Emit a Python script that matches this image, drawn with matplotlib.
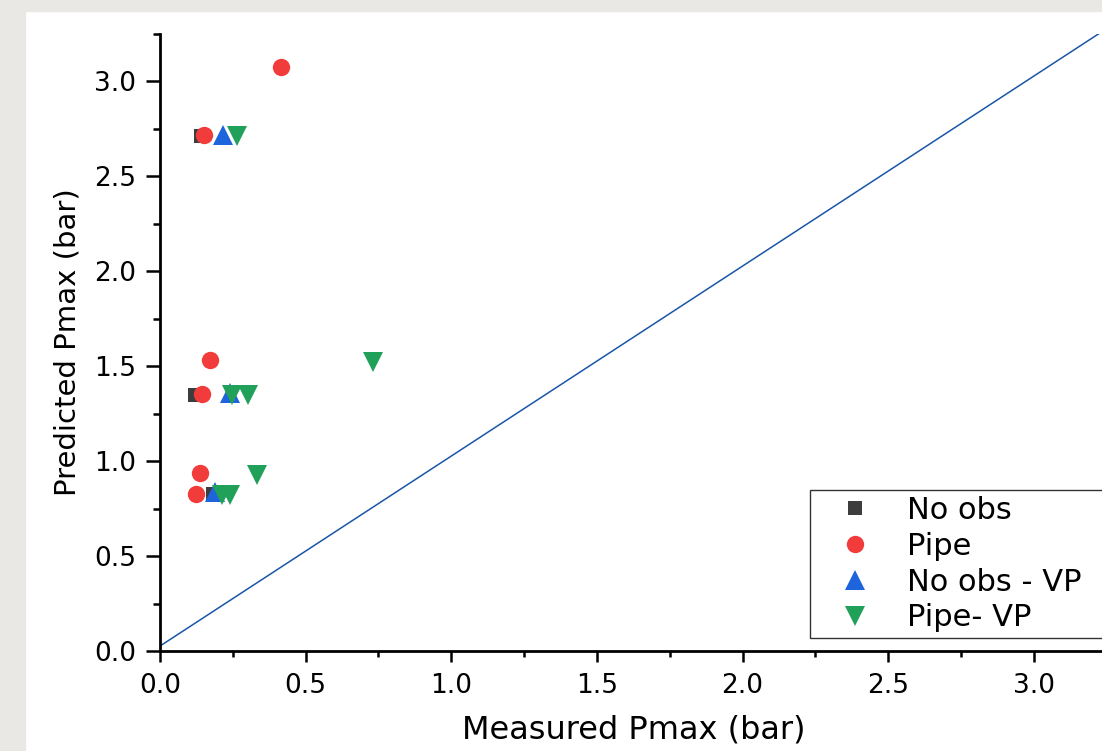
import numpy as np
import matplotlib
matplotlib.use("Agg")
import matplotlib.pyplot as plt
from matplotlib.patches import Rectangle
from matplotlib.ticker import MultipleLocator, FormatStrFormatter

# measured vs predicted Pmax (bar)
noobs_x = [0.14, 0.12, 0.182]
noobs_y = [2.71, 1.35, 0.826]
pipe_x = [0.415, 0.151, 0.17, 0.145, 0.137, 0.125]
pipe_y = [3.074, 2.715, 1.532, 1.353, 0.935, 0.826]
noobs_vp_x = [0.216, 0.24, 0.19]
noobs_vp_y = [2.715, 1.36, 0.835]
pipe_vp_x = [0.264, 0.731, 0.247, 0.302, 0.333, 0.213, 0.24]
pipe_vp_y = [2.71, 1.52, 1.347, 1.347, 0.926, 0.82, 0.82]
# 1:1 reference line
diag_x = [0.0, 3.4]
diag_y = [0.026, 3.426]

labels = ["No obs", "Pipe", "No obs - VP", "Pipe- VP"]
colors = ["#3d3d3d", "#f23b3b", "#1e64dc", "#21a05a"]

fig = plt.figure(figsize=(11.02, 7.51), dpi=100)
fig.patch.set_facecolor("white")
# grey frame of the screenshot
fig.add_artist(Rectangle((0, 1 - 11 / 751), 1, 11 / 751, transform=fig.transFigure,
                         color="#e9e8e4", zorder=0))
fig.add_artist(Rectangle((0, 0), 25 / 1102, 1, transform=fig.transFigure,
                         color="#e9e8e4", zorder=0))

ax = fig.add_axes([160 / 1102, 100 / 751, 946.7 / 1102, 617.5 / 751])
ax.set_facecolor("none")

ax.plot(diag_x, diag_y, color="#1a56a8", lw=1.1, zorder=1)
h1, = ax.plot(noobs_x, noobs_y, ls="none", marker="s", ms=10, mew=0, color=colors[0], zorder=2)
h2, = ax.plot(pipe_x, pipe_y, ls="none", marker="o", ms=12.5, mew=0, color=colors[1], zorder=3)
h3, = ax.plot(noobs_vp_x, noobs_vp_y, ls="none", marker="^", ms=14, mew=0, color=colors[2], zorder=4)
h4, = ax.plot(pipe_vp_x, pipe_vp_y, ls="none", marker="v", ms=14, mew=0, color=colors[3], zorder=5)

ax.set_xlim(0, 3.25)
ax.set_ylim(0, 3.25)
ax.xaxis.set_major_locator(MultipleLocator(0.5))
ax.xaxis.set_minor_locator(MultipleLocator(0.25))
ax.yaxis.set_major_locator(MultipleLocator(0.5))
ax.yaxis.set_minor_locator(MultipleLocator(0.25))
ax.xaxis.set_major_formatter(FormatStrFormatter("%.1f"))
ax.yaxis.set_major_formatter(FormatStrFormatter("%.1f"))

for s in ["top", "right"]:
    ax.spines[s].set_visible(False)
for s in ["left", "bottom"]:
    ax.spines[s].set_linewidth(2.0)
    ax.spines[s].set_zorder(6)

ax.tick_params(axis="x", which="major", direction="out", length=8, width=1.8, pad=8, labelsize=19)
ax.tick_params(axis="x", which="minor", direction="out", length=4, width=1.8)
ax.tick_params(axis="y", which="major", direction="out", length=10, width=1.8, pad=7, labelsize=19)
ax.tick_params(axis="y", which="minor", direction="out", length=5, width=1.8)

ax.set_xlabel("Measured Pmax (bar)", fontsize=23, labelpad=11)
ax.set_ylabel("Predicted Pmax (bar)", fontsize=21, labelpad=9)

leg = ax.legend([h1, h2, h3, h4], labels, loc="upper left",
                bbox_to_anchor=(810 / 1102, 0.2, 0.35, 1 - 490 / 751 - 0.2),
                bbox_transform=fig.transFigure, mode="expand", borderaxespad=0,
                fontsize=22, numpoints=1, handlelength=2.55, handletextpad=0.42,
                borderpad=0.2, labelspacing=0.22, fancybox=False,
                edgecolor="#333333", framealpha=1.0)
leg.get_frame().set_linewidth(1.0)
leg.set_zorder(10)

plt.savefig("out.png", dpi=100)
